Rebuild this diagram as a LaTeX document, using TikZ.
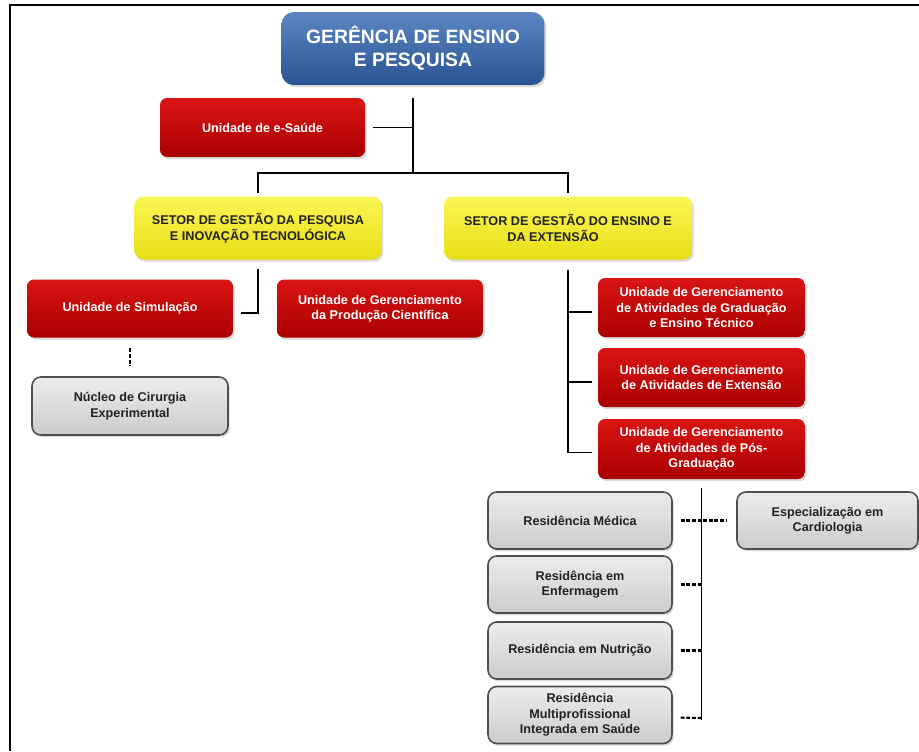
\documentclass[tikz,border=0pt]{standalone}
\usepackage{fontspec}
\setmainfont{Liberation Sans}
\usetikzlibrary{shadows,calc}

\definecolor{blueTop}{RGB}{92,134,194}
\definecolor{blueBot}{RGB}{42,84,146}
\definecolor{redTop}{RGB}{218,20,20}
\definecolor{redBot}{RGB}{170,0,0}
\definecolor{yellowTop}{RGB}{250,246,86}
\definecolor{yellowBot}{RGB}{232,222,20}
\definecolor{greyTop}{RGB}{236,236,236}
\definecolor{greyBot}{RGB}{204,204,204}
\definecolor{greyEdge}{RGB}{78,78,78}
\definecolor{darkText}{RGB}{34,34,34}

\tikzset{
	box/.style={align=center, inner sep=0pt, font=\fontsize{7.2}{8.8}\selectfont\bfseries,
		drop shadow={opacity=0.3, shadow xshift=1pt, shadow yshift=-1.2pt}},
	bluebox/.style={box, rounded corners=7pt, top color=blueTop, bottom color=blueBot, text=white,
		font=\fontsize{11}{13}\selectfont\bfseries, minimum width=5.26cm, minimum height=1.46cm},
	redbox/.style={box, rounded corners=4pt, top color=redTop, bottom color=redBot, text=white,
		minimum width=4.12cm, minimum height=1.16cm},
	yellowbox/.style={box, rounded corners=5pt, top color=yellowTop, bottom color=yellowBot, text=darkText,
		minimum width=4.94cm, minimum height=1.26cm},
	greybox/.style={box, rounded corners=5pt, top color=greyTop, bottom color=greyBot, draw=greyEdge,
		line width=0.9pt, text=darkText, minimum width=3.68cm, minimum height=1.14cm},
	link/.style={line width=1pt, black},
	dashlink/.style={line width=1.2pt, black, dash pattern=on 2.2pt off 1pt},
	frame/.style={line width=1.2pt, black}
}

\begin{document}
\begin{tikzpicture}[x=0.02cm, y=-0.02cm]
	\useasboundingbox (0,0) rectangle (919,751);
	\draw [frame] (919,5) -- (10,5) -- (10,751);

	\node [bluebox] (gerencia) at (413, 48.5) {GERÊNCIA DE ENSINO\\E PESQUISA};
	\node [redbox, minimum width=4.10cm, minimum height=1.18cm] (esaude) at (262.5, 127.5) {Unidade de e-Saúde};

	\node [yellowbox] (pesquisa) at (258, 228) {SETOR DE GESTÃO DA PESQUISA\\E INOVAÇÃO TECNOLÓGICA};
	\node [yellowbox, minimum width=4.96cm] (ensino) at (568, 228) {SETOR DE GESTÃO DO ENSINO E\\DA EXTENSÃO\hspace*{17pt}};

	\node [redbox] (simulacao) at (130, 308.5) {Unidade de Simulação};
	\node [redbox] (producao) at (380, 308.5) {Unidade de Gerenciamento\\da Produção Científica};
	\node [greybox, minimum width=3.92cm, minimum height=1.16cm] (nucleo) at (130, 406) {Núcleo de Cirurgia\\Experimental};

	\node [redbox, minimum width=4.14cm, minimum height=1.18cm] (gradua) at (701.5, 307.5) {Unidade de Gerenciamento\\de Atividades de Graduação\\e Ensino Técnico};
	\node [redbox, minimum width=4.14cm, minimum height=1.18cm] (extensao) at (701.5, 377.5) {Unidade de Gerenciamento\\de Atividades de Extensão};
	\node [redbox, minimum width=4.14cm, minimum height=1.20cm] (pos) at (701.5, 449) {Unidade de Gerenciamento\\de Atividades de Pós-\\Graduação};

	\node [greybox] (medica) at (580, 520.5) {Residência Médica};
	\node [greybox] (enferm) at (580, 584.5) {Residência em\\Enfermagem};
	\node [greybox] (nutri) at (580, 650.5) {Residência em Nutrição};
	\node [greybox] (multi) at (580, 715) {Residência\\Multiprofissional\\Integrada em Saúde};
	\node [greybox, minimum width=3.62cm] (espec) at (827.5, 520.5) {Especialização em\\Cardiologia};

	\coordinate (hub) at (413, 173);
	\draw [link] ([yshift=-7pt]gerencia.south) -- (hub);
	\draw [link] ([xshift=4.5pt]esaude.east) -- (esaude.east -| hub);
	\draw [link] ([yshift=2pt]pesquisa.north) |- (hub) -| ([yshift=2pt]ensino.north);

	\draw [link] ([yshift=-5pt]pesquisa.south) |- ([xshift=4.5pt, yshift=-2.5pt]simulacao.east);
	\draw [dashlink] ([yshift=-6pt]simulacao.south) -- ([yshift=6pt]nucleo.north);

	\draw [link] ([yshift=-6pt]ensino.south) |- ([xshift=-3pt, yshift=-2.5pt]gradua.west);
	\draw [link] ([yshift=-6pt]ensino.south) |- ([xshift=-3pt, yshift=-2.5pt]extensao.west);
	\draw [link] ([yshift=-6pt]ensino.south) |- ([xshift=-3pt, yshift=-2pt]pos.west);

	\draw [link] ([yshift=-5pt]pos.south) -- ($(pos.south |- multi.east)+(0,5)$);
	\draw [dashlink] ([xshift=4.5pt]medica.east) -- ([xshift=-5.5pt]espec.west);
	\draw [dashlink] ([xshift=4.5pt]enferm.east) -- (enferm.east -| pos.south);
	\draw [dashlink] ([xshift=4.5pt]nutri.east) -- (nutri.east -| pos.south);
	\draw [dashlink] ([xshift=4.5pt, yshift=-1.5pt]multi.east) -- ($(multi.east -| pos.south)+(0,3)$);
\end{tikzpicture}
\end{document}
